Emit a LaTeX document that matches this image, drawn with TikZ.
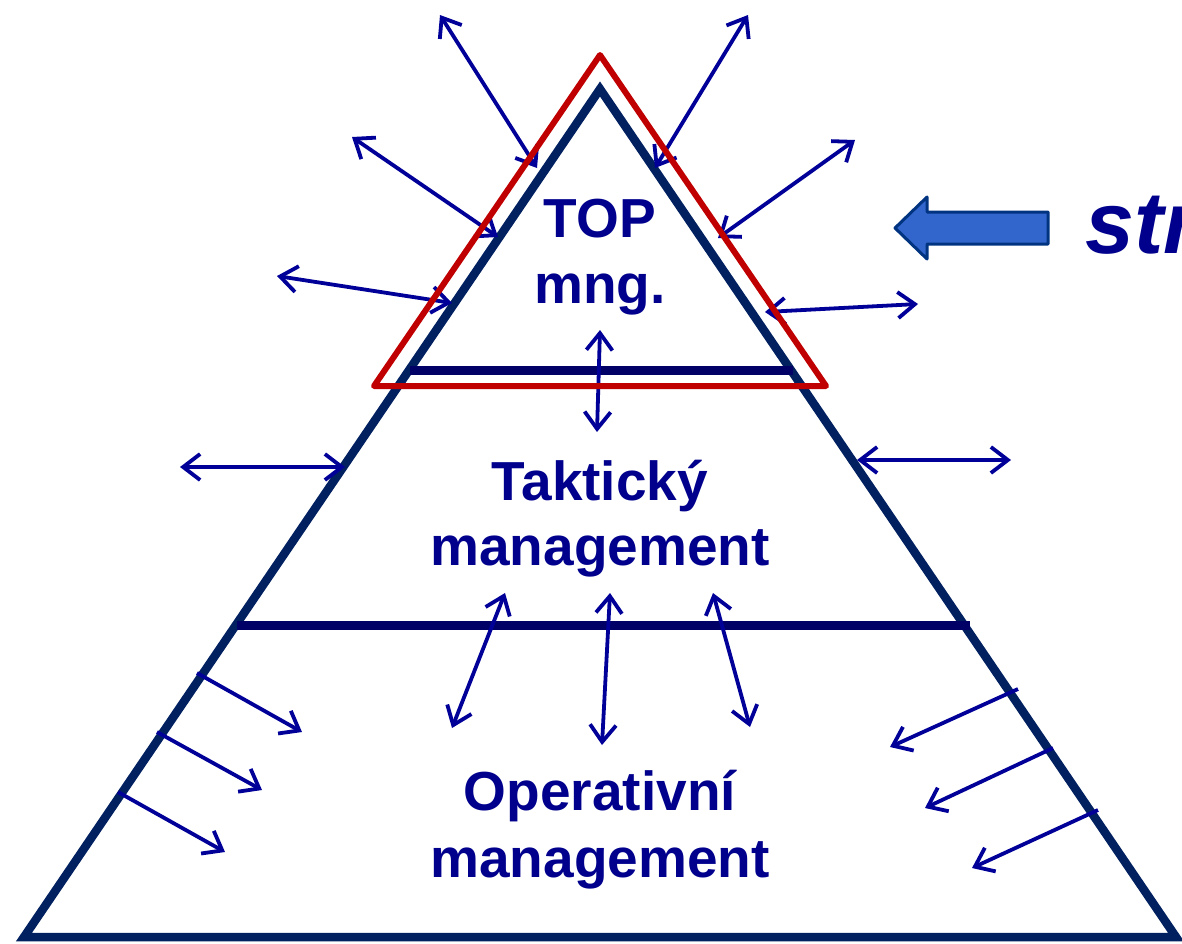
\documentclass[tikz,border=0pt]{standalone}
\usepackage{fontspec}
\setmainfont{Liberation Sans}
\usepackage{tikz}
\usetikzlibrary{arrows.meta,calc,positioning}
\definecolor{pyrnavy}{RGB}{0,32,96}
\definecolor{barnavy}{RGB}{0,0,102}
\definecolor{topred}{RGB}{192,0,0}
\definecolor{txtblue}{RGB}{0,0,140}
\definecolor{arrblue}{RGB}{0,0,153}
\definecolor{blkfill}{RGB}{51,102,204}
\definecolor{blkdraw}{RGB}{0,51,128}
\tikzstyle{pyramid} = [line width=8.5pt, draw=pyrnavy, line join=miter]
\tikzstyle{levelbar} = [line width=9pt, draw=barnavy]
\tikzstyle{topframe} = [line width=6pt, draw=topred, line join=round]
\tikzstyle{lvltext} = [anchor=base, inner sep=0pt, text=txtblue, font=\bfseries\fontsize{55}{66}\selectfont]
\tikzstyle{bigtext} = [anchor=base west, inner sep=0pt, text=txtblue, font=\bfseries\itshape\fontsize{88}{100}\selectfont]
\tikzstyle{arrow} = [line width=3.8pt, draw=arrblue, <->, >={Straight Barb[length=17pt,width=26pt]}]
\tikzstyle{push} = [line width=3.8pt, draw=arrblue, ->, >={Straight Barb[length=17pt,width=26pt]}]
\tikzstyle{blockarrow} = [fill=blkfill, draw=blkdraw, line width=3pt, line join=round]

\begin{document}
\begin{tikzpicture}[x=1pt, y=-1pt]
\useasboundingbox (0,0) rectangle (1182,943);

% pyramid corners
\coordinate (apex) at (600,89);
\coordinate (bl) at (24,937);
\coordinate (br) at (1176,937);
% red frame corners
\coordinate (rapex) at (600,55);
\coordinate (rbl) at (374,386);
\coordinate (rbr) at (826,386);
% level bars
\coordinate (bar1l) at (410,370);
\coordinate (bar1r) at (793,370);
\coordinate (bar2l) at (237,625);
\coordinate (bar2r) at (970,625);

% arrows round the top
\coordinate (u1a) at (440,15);   \coordinate (u1b) at (537,168);
\coordinate (u2a) at (748,15);   \coordinate (u2b) at (655,168);
\coordinate (u3a) at (352,137);  \coordinate (u3b) at (498,237);
\coordinate (u4a) at (855,140);  \coordinate (u4b) at (718,238);
\coordinate (u5a) at (277,276);  \coordinate (u5b) at (452,303);
\coordinate (u6a) at (918,304);  \coordinate (u6b) at (765,312);
\coordinate (v1a) at (600,330);  \coordinate (v1b) at (597,432);
\coordinate (h1a) at (180,467);  \coordinate (h1b) at (345,467);
\coordinate (h2a) at (857,460);  \coordinate (h2b) at (1011,460);
\coordinate (d1a) at (505,593);  \coordinate (d1b) at (452,728);
\coordinate (d2a) at (610,593);  \coordinate (d2b) at (602,745);
\coordinate (d3a) at (713,593);  \coordinate (d3b) at (750,727);
% arrows from the lower sides
\coordinate (l1a) at (197,673);  \coordinate (l1b) at (302,732);
\coordinate (l2a) at (157,732);  \coordinate (l2b) at (262,790);
\coordinate (l3a) at (118,792);  \coordinate (l3b) at (225,852);
\coordinate (r1a) at (1018,689); \coordinate (r1b) at (890,747);
\coordinate (r2a) at (1053,748); \coordinate (r2b) at (925,808);
\coordinate (r3a) at (1098,810); \coordinate (r3b) at (972,868);

\draw [pyramid] (apex) -- (bl) -- (br) -- cycle;
\draw [levelbar] (bar1l) -- (bar1r);
\draw [levelbar] (bar2l) -- (bar2r);

\draw [arrow] (u1a) -- (u1b);
\draw [arrow] (u2a) -- (u2b);
\draw [arrow] (u3a) -- (u3b);
\draw [arrow] (u4a) -- (u4b);
\draw [arrow] (u5a) -- (u5b);
\draw [arrow] (u6a) -- (u6b);
\draw [arrow] (v1a) -- (v1b);
\draw [arrow] (h1a) -- (h1b);
\draw [arrow] (h2a) -- (h2b);
\draw [arrow] (d1a) -- (d1b);
\draw [arrow] (d2a) -- (d2b);
\draw [arrow] (d3a) -- (d3b);

\draw [push] (l1a) -- (l1b);
\draw [push] (l2a) -- (l2b);
\draw [push] (l3a) -- (l3b);
\draw [push] (r1a) -- (r1b);
\draw [push] (r2a) -- (r2b);
\draw [push] (r3a) -- (r3b);

\draw [topframe] (rapex) -- (rbl) -- (rbr) -- cycle;

\draw [blockarrow] (895,228) -- (927,197) -- (927,212) -- (1048,212) -- (1048,244) -- (927,244) -- (927,259) -- cycle;

\node (top1) [lvltext] at (600,237) {TOP};
\node (top2) [lvltext] at (600,303) {mng.};
\node (tak1) [lvltext] at (600,500) {Taktický};
\node (tak2) [lvltext] at (600,565) {management};
\node (ope1) [lvltext] at (600,810) {Operativní};
\node (ope2) [lvltext] at (600,877) {management};
\node (str) [bigtext] at (1085,253) {str};

\end{tikzpicture}
\end{document}
